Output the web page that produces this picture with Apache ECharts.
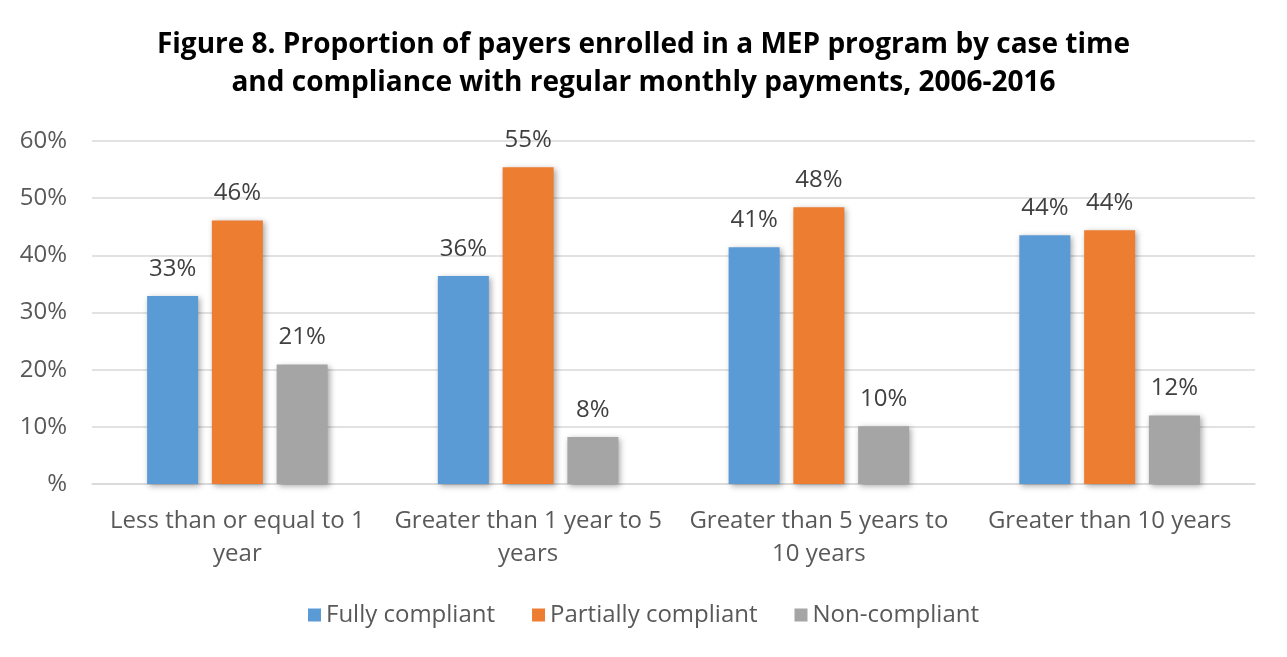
<!DOCTYPE html>
<html>
<head>
<meta charset="utf-8">
<script src="https://cdn.jsdelivr.net/npm/echarts@6/dist/echarts.min.js"></script>
<style>
  html, body { margin: 0; padding: 0; background: #fff; }
  #main { width: 1287px; height: 657px; }
</style>
</head>
<body>
<div id="main"></div>
<script>
// categories and values (percent)
var categories = ["Less than or equal to 1\nyear", "Greater than 1 year to 5\nyears",
    "Greater than 5 years to\n10 years", "Greater than 10 years"];
var fullyCompliant = [32.9, 36.4, 41.4, 43.5];
var partiallyCompliant = [46.1, 55.4, 48.4, 44.4];
var nonCompliant = [20.9, 8.2, 10.1, 12.0];
var yTicks = [0, 10, 20, 30, 40, 50, 60];

var fontName = "'Open Sans', Lato, sans-serif";

function barSeries(name, data, color)
{
    return {
        name: name,
        type: 'bar',
        data: data,
        barWidth: 51,
        barGap: '27%',
        itemStyle: {
            color: color,
            shadowColor: 'rgba(0,0,0,0.35)',
            shadowBlur: 6,
            shadowOffsetX: 2,
            shadowOffsetY: 2
        },
        label: {
            show: true,
            position: 'top',
            distance: 15,
            fontFamily: fontName,
            fontSize: 24,
            color: '#404040',
            formatter: function (p) { return Math.round(p.value) + '%'; }
        }
    };
}

var myChart = echarts.init(document.getElementById('main'));
var option = {
    backgroundColor: '#fff',
    animation: false,
    title: {
        text: 'Figure 8. Proportion of payers enrolled in a MEP program by case time\nand compliance with regular monthly payments, 2006-2016',
        left: 'center',
        top: 21,
        textStyle: {
            fontFamily: fontName,
            fontWeight: 'bold',
            fontSize: 28,
            lineHeight: 38,
            color: '#000'
        }
    },
    legend: {
        bottom: 25,
        left: 'center',
        itemWidth: 13,
        itemHeight: 13,
        itemGap: 37,
        icon: 'rect',
        textStyle: { fontFamily: fontName, fontSize: 24, color: '#595959' },
        data: ['Fully compliant', 'Partially compliant', 'Non-compliant']
    },
    grid: {
        left: 92,
        right: 32,
        top: 141,
        bottom: 173,
        containLabel: false
    },
    xAxis: {
        type: 'category',
        data: categories,
        axisLine: { lineStyle: { color: '#d9d9d9', width: 1.5 } },
        axisTick: { show: false },
        axisLabel: {
            fontFamily: fontName,
            fontSize: 24,
            color: '#595959',
            lineHeight: 33,
            margin: 21,
            interval: 0
        }
    },
    yAxis: {
        type: 'value',
        min: yTicks[0],
        max: yTicks[yTicks.length - 1],
        interval: 10,
        axisLine: { show: false },
        axisTick: { show: false },
        splitLine: { lineStyle: { color: '#d9d9d9', width: 1.5 } },
        axisLabel: {
            fontFamily: fontName,
            fontSize: 24,
            color: '#595959',
            margin: 25,
            formatter: function (v) { return v === 0 ? '%' : v + '%'; }
        }
    },
    series: [
        barSeries('Fully compliant', fullyCompliant, '#5b9bd5'),
        barSeries('Partially compliant', partiallyCompliant, '#ed7d31'),
        barSeries('Non-compliant', nonCompliant, '#a5a5a5')
    ]
};
myChart.setOption(option);
</script>
</body>
</html>
